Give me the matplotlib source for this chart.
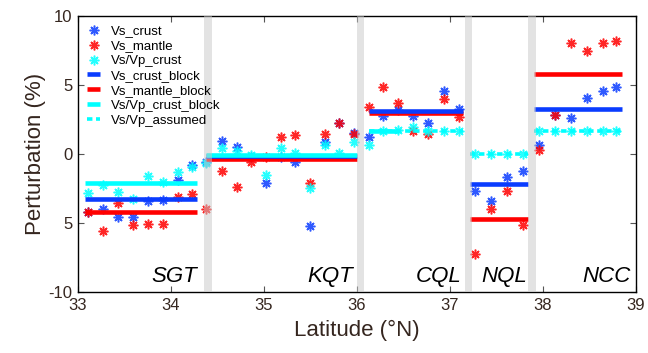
import numpy as np
import matplotlib
matplotlib.use('Agg')
import matplotlib.pyplot as plt

plt.rcParams['font.family'] = ['Liberation Sans', 'DejaVu Sans']

## DATA
# point latitudes / values per block
lat_pts = [33.11, 33.27, 33.43, 33.59, 33.75, 33.91, 34.07, 34.23,
           34.38, 34.545, 34.71, 34.86, 35.02, 35.18, 35.33, 35.49, 35.655, 35.81, 35.97,
           36.13, 36.28, 36.44, 36.605, 36.76, 36.935, 37.10,
           37.27, 37.44, 37.61, 37.79,
           37.96, 38.13, 38.30, 38.47, 38.64, 38.79]
vs_crust = [-4.23, -4.01, -4.54, -4.54, -3.43, -3.33, -1.88, -0.80,
            -0.55, 0.97, 0.53, -0.2, -2.13, -0.2, -0.56, -5.22, 0.85, 2.27, 1.50,
            1.26, 2.75, 3.19, 2.78, 2.27, 4.59, 3.24,
            -2.66, -3.38, -1.69, -1.21,
            0.65, 2.83, 2.58, 4.08, 4.59, 4.88]
vs_mantle = [-4.2, -5.58, -3.57, -5.17, -5.10, -5.10, -3.14, -2.90,
             -4.01, -1.21, -2.42, -0.56, -0.2, 1.26, 1.38, -2.13, 1.42, 2.27, 1.42,
             3.43, 4.88, 3.72, 1.69, 1.45, 4.01, 2.71,
             -7.27, -3.99, -2.66, -5.16,
             0.29, 2.83, 8.07, 7.46, 8.07, 8.19]
vpvs_crust = [-2.80, -2.25, -2.73, -3.24, -1.59, -2.05, -1.33, -0.94,
              -0.68, 0.41, 0.24, -0.1, -1.55, 0.41, 0.05, -2.44, 0.65, 0.05, 0.85,
              0.63, 1.67, 1.74, 1.98, 1.67, 1.67, 1.67,
              0.0, 0.0, 0.0, 0.0,
              1.67, 1.67, 1.67, 1.67, 1.67, 1.67]

# block averages
block_names = ['SGT', 'KQT', 'CQL', 'NQL', 'NCC']
block_start = [33.08, 34.38, 36.13, 37.22, 37.90]
block_end = [34.28, 36.00, 37.14, 37.84, 38.85]
vs_crust_block = [-3.24, -0.12, 3.12, -2.2, 3.28]
vs_mantle_block = [-4.18, -0.39, 3.0, -4.73, 5.82]
vpvs_start = [33.08, 34.38, 36.13]
vpvs_end = [34.28, 36.00, 36.45]
vpvs_block = [-2.08, -0.08, 1.67]
assumed_start = [36.13, 37.22, 37.90]
assumed_end = [37.14, 37.84, 38.85]
vpvs_assumed = [1.67, 0.0, 1.67]
label_x = [34.28, 35.96, 37.125, 37.825, 38.94]
boundaries = [34.40, 36.04, 37.20, 37.88]

BLUE = '#0a3cff'
RED = '#ff0000'
CYAN = '#00ffff'
TXT = '#35261f'

fig = plt.figure(figsize=(6.48, 3.53), dpi=100)
ax = fig.add_axes([0.1204, 0.1728, 0.8611, 0.7819])

mk = dict(marker=(8, 2, 0), markersize=7, markeredgewidth=1.1, linestyle='none')
ax.plot(lat_pts, vs_crust, color=BLUE, label='Vs_crust', zorder=3, alpha=0.85, **mk)
ax.plot(lat_pts, vs_mantle, color=RED, label='Vs_mantle', zorder=3, alpha=0.85, **mk)
ax.plot(lat_pts, vpvs_crust, color=CYAN, label='Vs/Vp_crust', zorder=3, alpha=0.85, **mk)

# block lines
for i in range(len(block_start)):
    ax.plot([block_start[i], block_end[i]], [vs_mantle_block[i]] * 2, color=RED, lw=3.3,
            solid_capstyle='butt', zorder=4, label='Vs_mantle_block' if i == 0 else None)
    ax.plot([block_start[i], block_end[i]], [vs_crust_block[i]] * 2, color=BLUE, lw=3.3,
            solid_capstyle='butt', zorder=4, label='Vs_crust_block' if i == 0 else None)
for i in range(len(vpvs_start)):
    ax.plot([vpvs_start[i], vpvs_end[i]], [vpvs_block[i]] * 2, color=CYAN, lw=3.3,
            solid_capstyle='butt', zorder=4, label='Vs/Vp_crust_block' if i == 0 else None)
for i in range(len(assumed_start)):
    ax.plot([assumed_start[i], assumed_end[i]], [vpvs_assumed[i]] * 2, color=CYAN, lw=2.6,
            dashes=(1.5, 1.0), dash_capstyle='butt', zorder=4,
            label='Vs/Vp_assumed' if i == 0 else None)

# gray boundaries
for b in boundaries:
    ax.axvspan(b - 0.04, b + 0.04, color='#c8c8c8', alpha=0.5, lw=0, zorder=5)

for i, n in enumerate(block_names):
    ax.text(label_x[i], -9.25, n, ha='right', va='baseline', fontsize=16,
            style='italic', color='black', zorder=6)

ax.set_xlim(33, 39)
ax.set_ylim(-10, 10)
ax.set_xticks([33, 34, 35, 36, 37, 38, 39])
ax.set_yticks([-10, -5, 0, 5, 10])
ax.set_yticklabels(['-10', '5', '0', '5', '10'])
ax.tick_params(direction='in', length=4, width=0.8, top=True, right=True,
               labelsize=12, labelcolor=TXT, color='#555555', pad=4)
ax.set_xlabel('Latitude (°N)', fontsize=16, color=TXT, labelpad=5)
ax.set_ylabel('Perturbation (%)', fontsize=16, color=TXT, labelpad=2)
for s in ax.spines.values():
    s.set_linewidth(1.0)

# legend order as in the reference
h, l = ax.get_legend_handles_labels()
order = ['Vs_crust', 'Vs_mantle', 'Vs/Vp_crust', 'Vs_crust_block', 'Vs_mantle_block',
         'Vs/Vp_crust_block', 'Vs/Vp_assumed']
hd = dict(zip(l, h))
leg = ax.legend([hd[k] for k in order], order, loc='upper left', frameon=False,
                fontsize=9.5, handlelength=1.0, handletextpad=0.8, labelspacing=0.2,
                borderaxespad=0.3, borderpad=0.4)
leg.set_zorder(7)

fig.savefig('out.png', dpi=100)
